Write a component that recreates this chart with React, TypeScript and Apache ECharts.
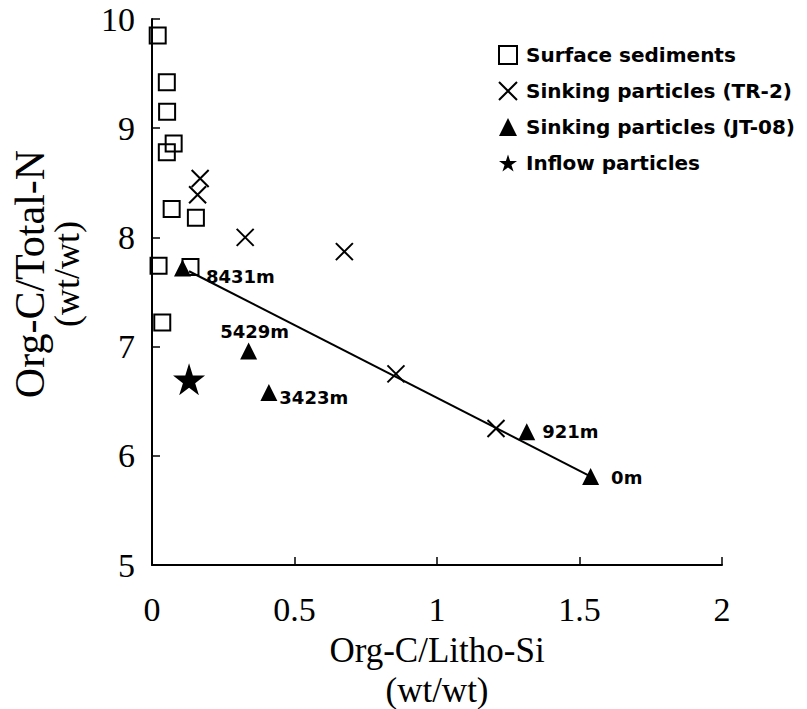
import React, { useEffect, useRef } from "react";
import * as echarts from "echarts";

// ---- Data ----
const surfaceSediments: [number, number][] = [
  [0.02, 9.85],
  [0.052, 9.42],
  [0.053, 9.15],
  [0.076, 8.86],
  [0.052, 8.78],
  [0.069, 8.26],
  [0.154, 8.18],
  [0.023, 7.74],
  [0.135, 7.73],
  [0.036, 7.22],
];

const sinkingTR2: [number, number][] = [
  [0.169, 8.54],
  [0.16, 8.39],
  [0.327, 8.0],
  [0.675, 7.87],
  [0.856, 6.75],
  [1.207, 6.25],
];

const sinkingJT08: [number, number][] = [
  [0.107, 7.72],
  [0.339, 6.96],
  [0.41, 6.58],
  [1.315, 6.22],
  [1.539, 5.81],
];
const jt08Depths = ["8431m", "5429m", "3423m", "921m", "0m"];

const inflowParticles: [number, number][] = [[0.13, 6.7]];

const trendLine: [number, number][] = [
  [0.13, 7.69],
  [1.54, 5.81],
];

const xTickLabels = ["0", "0.5", "1", "1.5", "2"];
const yTickLabels = ["5", "6", "7", "8", "9", "10"];

const seriesNames = [
  "Surface sediments",
  "Sinking particles (TR-2)",
  "Sinking particles (JT-08)",
  "Inflow particles",
];

// ---- Styling ----
const depthLabelPlacement: any[] = [
  { position: "right", distance: 15, offset: [0, 9] },
  { position: "top", distance: 2, offset: [6, 0] },
  { position: "right", distance: 2, offset: [0, 5] },
  { position: "right", distance: 7, offset: [0, 0] },
  { position: "right", distance: 12, offset: [0, 1] },
];

const SERIF = "'Liberation Serif', 'Times New Roman', serif";
const SANS = "'DejaVu Sans', sans-serif";
const CROSS = "path://M0,0 L10,10 M10,0 L0,10";
const STAR =
  "path://M50,0 L61.2,34.5 L97.6,34.5 L68.2,55.9 L79.4,90.5 L50,69.1 L20.6,90.5 L31.8,55.9 L2.4,34.5 L38.8,34.5 Z";

export default function App() {
  const ref = useRef<HTMLDivElement>(null);

  useEffect(() => {
    if (!ref.current) return;
    const chart = echarts.init(ref.current, undefined, { renderer: "svg" });

    const option: any = {
      animation: false,
      backgroundColor: "#fff",
      grid: {
        left: 152,
        right: 85,
        top: 19,
        bottom: 144,
        containLabel: false,
        outerBoundsMode: "none",
      },
      legend: {
        orient: "vertical",
        left: 493,
        top: 40,
        itemWidth: 18,
        itemHeight: 18,
        itemGap: 16,
        data: seriesNames,
        textStyle: {
          fontFamily: SANS,
          fontSize: 20,
          fontWeight: "bold",
          color: "#000",
          padding: [0, 0, 0, 4],
        },
      },
      xAxis: {
        type: "value",
        min: 0,
        max: 2,
        interval: 0.5,
        splitLine: { show: false },
        axisLine: { lineStyle: { color: "#000", width: 2 } },
        axisTick: { inside: true, length: 8, lineStyle: { color: "#000", width: 1.5 } },
        axisLabel: {
          margin: 27,
          fontFamily: SERIF,
          fontSize: 34,
          color: "#000",
          formatter: (_v: number, i: number) => xTickLabels[i] ?? "",
        },
        name: "Org-C/Litho-Si\n(wt/wt)",
        nameLocation: "middle",
        nameGap: 58,
        nameTextStyle: { fontFamily: SERIF, fontSize: 35, lineHeight: 40, color: "#000" },
      },
      yAxis: {
        type: "value",
        min: 5,
        max: 10,
        interval: 1,
        splitLine: { show: false },
        axisLine: { lineStyle: { color: "#000", width: 2 } },
        axisTick: { inside: true, length: 8, lineStyle: { color: "#000", width: 1.5 } },
        axisLabel: {
          margin: 17,
          fontFamily: SERIF,
          fontSize: 34,
          color: "#000",
          formatter: (_v: number, i: number) => yTickLabels[i] ?? "",
        },
        name: "{a|Org-C/Total-N}\n{b|(wt/wt)}",
        nameLocation: "middle",
        nameRotate: 90,
        nameGap: 68,
        nameTextStyle: {
          fontFamily: SERIF,
          color: "#000",
          padding: [0, 0, 0, 36],
          rich: {
            a: { fontFamily: SERIF, fontSize: 42, lineHeight: 40, color: "#000" },
            b: { fontFamily: SERIF, fontSize: 36, lineHeight: 34, color: "#000" },
          },
        },
      },
      series: [
        {
          name: seriesNames[0],
          type: "scatter",
          symbol: "rect",
          symbolSize: 16,
          itemStyle: { color: "transparent", borderColor: "#000", borderWidth: 2, opacity: 1 },
          data: surfaceSediments,
          z: 2,
        },
        {
          name: seriesNames[1],
          type: "scatter",
          symbol: CROSS,
          symbolSize: 17,
          itemStyle: { color: "transparent", borderColor: "#000", borderWidth: 2, opacity: 1 },
          data: sinkingTR2,
          z: 3,
        },
        {
          name: seriesNames[2],
          type: "scatter",
          symbol: "triangle",
          symbolSize: [17, 17],
          itemStyle: { color: "#000", opacity: 1 },
          data: sinkingJT08.map((v, i) => ({
            value: v,
            name: jt08Depths[i],
            label: { show: true, ...depthLabelPlacement[i] },
          })),
          label: {
            show: true,
            formatter: "{b}",
            fontFamily: SANS,
            fontSize: 18,
            fontWeight: "bold",
            color: "#000",
          },
          z: 4,
        },
        {
          name: seriesNames[3],
          type: "scatter",
          symbol: STAR,
          symbolSize: 32,
          itemStyle: { color: "#000", opacity: 1 },
          data: inflowParticles,
          z: 4,
        },
        {
          name: "trend",
          type: "line",
          data: trendLine,
          showSymbol: false,
          symbol: "none",
          lineStyle: { color: "#000", width: 2 },
          z: 1,
          silent: true,
        },
      ],
    };

    chart.setOption(option);
    return () => chart.dispose();
  }, []);

  return (
    <div
      ref={ref}
      style={{ position: "fixed", left: 0, top: 0, width: 807, height: 709, background: "#fff" }}
    />
  );
}
